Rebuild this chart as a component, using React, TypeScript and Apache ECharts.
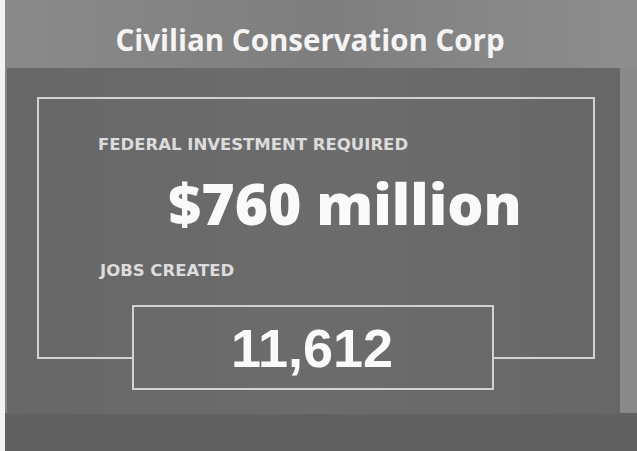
import React, { useEffect, useRef } from "react";
import * as echarts from "echarts";

const TITLE = "Civilian Conservation Corp";
const LABELS = ["FEDERAL INVESTMENT REQUIRED", "JOBS CREATED"];
const VALUES = ["$760 million", "11,612"];

export default function App() {
  const ref = useRef<HTMLDivElement>(null);
  useEffect(() => {
    const chart = echarts.init(ref.current!, null, { renderer: "svg" });
    const line = "#d2d2d2";
    chart.setOption({
      animation: false,
      backgroundColor: "#858585",
      graphic: [
        { type: "rect", shape: { x: 0, y: 0, width: 5, height: 451 }, style: { fill: "#f2f2f2" } },
        {
          type: "rect",
          shape: { x: 5, y: 0, width: 632, height: 70 },
          style: {
            fill: new echarts.graphic.LinearGradient(0, 0, 1, 0, [
              { offset: 0, color: "#8a8a8a" },
              { offset: 0.5, color: "#7e7e7e" },
              { offset: 1, color: "#8e8e8e" },
            ]),
          },
        },
        { type: "rect", shape: { x: 620, y: 68, width: 17, height: 383 }, style: { fill: "#8a8a8a" } },
        { type: "rect", shape: { x: 5, y: 413, width: 632, height: 38 }, style: { fill: "#616161" } },
        {
          type: "rect",
          shape: { x: 7, y: 68, width: 613, height: 346 },
          style: {
            fill: new echarts.graphic.LinearGradient(0, 0, 1, 0, [
              { offset: 0, color: "#676767" },
              { offset: 0.5, color: "#6c6c6c" },
              { offset: 1, color: "#676767" },
            ]),
          },
        },
        // outer frame
        {
          type: "polyline",
          shape: { points: [[132, 358], [38, 358], [38, 98], [594, 98], [594, 358], [493, 358]] },
          style: { stroke: line, lineWidth: 2, fill: "none" },
        },
        // inner box
        {
          type: "rect",
          shape: { x: 133, y: 306, width: 360, height: 83 },
          style: { stroke: line, lineWidth: 2, fill: "none" },
        },
        {
          type: "text",
          x: 310,
          y: 39,
          style: {
            text: TITLE,
            fill: "#f4f4f4",
            font: "bold 29.5px 'Open Sans'",
            align: "center",
            verticalAlign: "middle",
          },
        },
        {
          type: "text",
          x: 98,
          y: 144,
          style: {
            text: LABELS[0],
            fill: "#dcdcdc",
            font: "bold 16.5px 'DejaVu Sans'",
            align: "left",
            verticalAlign: "middle",
          },
        },
        {
          type: "text",
          x: 345,
          y: 203,
          style: {
            text: VALUES[0],
            fill: "#fafafa",
            font: "800 57px 'Open Sans'",
            align: "center",
            verticalAlign: "middle",
          },
        },
        {
          type: "text",
          x: 100,
          y: 270,
          style: {
            text: LABELS[1],
            fill: "#dcdcdc",
            font: "bold 16.5px 'DejaVu Sans'",
            align: "left",
            verticalAlign: "middle",
          },
        },
        {
          type: "text",
          x: 312,
          y: 348,
          style: {
            text: VALUES[1],
            fill: "#fafafa",
            font: "bold 54px 'Liberation Sans'",
            align: "center",
            verticalAlign: "middle",
          },
        },
      ],
    });
    return () => chart.dispose();
  }, []);
  return (
    <div
      ref={ref}
      style={{ position: "fixed", left: 0, top: 0, width: 637, height: 451 }}
    />
  );
}
